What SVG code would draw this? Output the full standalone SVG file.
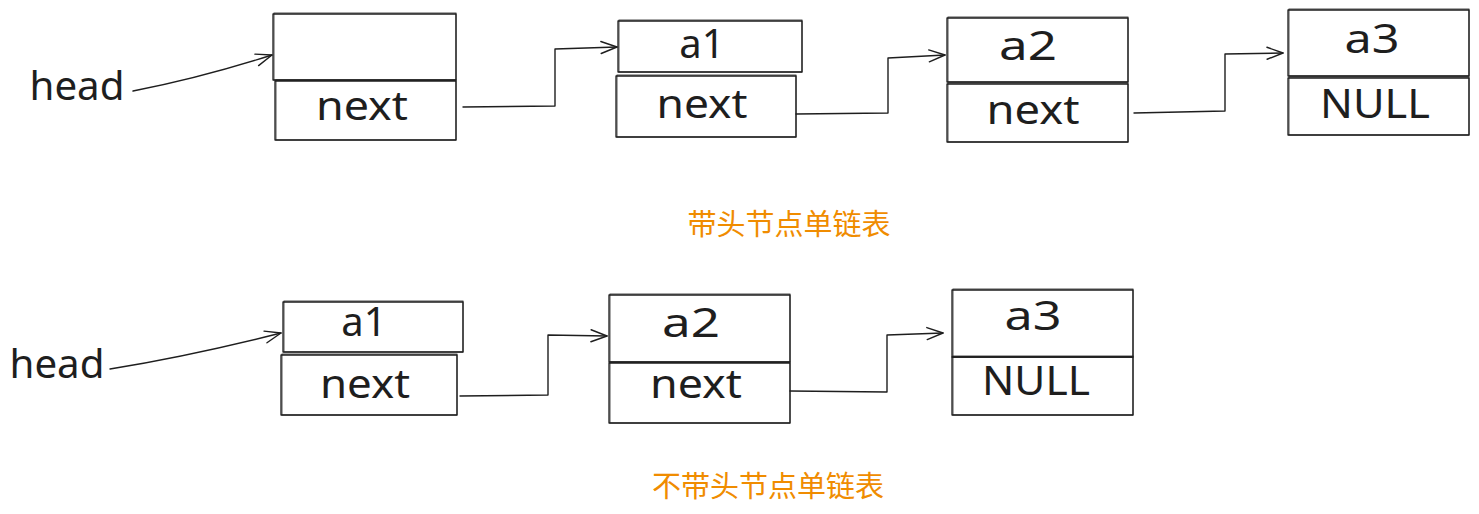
<svg xmlns="http://www.w3.org/2000/svg" width="1479" height="514" viewBox="0 0 1479 514">
  <style>
    .cell { fill: none; stroke: #1e1e1e; stroke-width: 1.3; stroke-linejoin: round; }
    .cell2 { fill: none; stroke: #1e1e1e; stroke-width: 0.9; opacity: 0.85; }
    .lbl { font-family: "Noto Sans", "DejaVu Sans", sans-serif; font-size: 40px; fill: #1e1e1e; text-anchor: middle; }
    .lk { fill: none; stroke: #1e1e1e; stroke-width: 1.4; stroke-linejoin: round; stroke-linecap: round; }
    .title { font-family: "Noto Sans CJK SC", "Noto Sans", sans-serif; font-size: 29px; fill: #f08c00; text-anchor: middle; }
  </style>
  <defs>
    <marker id="arrow" viewBox="-18 -9 20 18" refX="0" refY="0" markerWidth="20" markerHeight="18" markerUnits="userSpaceOnUse" orient="auto">
      <path d="M-16,-6 L0,0 L-16,6" fill="none" stroke="#1e1e1e" stroke-width="1.4" stroke-linecap="round" stroke-linejoin="round"/>
    </marker>
  </defs>

  <rect width="1479" height="514" fill="#ffffff"/>

  <!-- list with a head node -->
  <g id="head-top">
    <text class="lbl" x="77" y="100" textLength="95" lengthAdjust="spacingAndGlyphs">head</text>
  </g>

  <g id="node-h">
    <rect class="cell" x="273" y="14" width="183" height="66"/>
    <rect class="cell2" x="274" y="13" width="182" height="67"/>
    <rect class="cell" x="275" y="81" width="181" height="59"/>
    <rect class="cell2" x="276" y="80" width="180" height="60"/>
    <text class="lbl" x="362" y="120" textLength="92" lengthAdjust="spacingAndGlyphs">next</text>
  </g>

  <g id="node-a1-top">
    <rect class="cell" x="618" y="21" width="184" height="51"/>
    <rect class="cell2" x="619" y="20" width="183" height="52"/>
    <rect class="cell" x="616" y="76" width="180" height="61"/>
    <rect class="cell2" x="617" y="75" width="179" height="62"/>
    <text class="lbl" x="702" y="58">a1</text>
    <text class="lbl" x="702" y="118" textLength="91" lengthAdjust="spacingAndGlyphs">next</text>
  </g>

  <g id="node-a2-top">
    <rect class="cell" x="947" y="18" width="181" height="64"/>
    <rect class="cell2" x="948" y="17" width="180" height="65"/>
    <rect class="cell" x="947" y="84" width="181" height="58"/>
    <rect class="cell2" x="948" y="83" width="180" height="59"/>
    <text class="lbl" x="1028" y="60" textLength="58" lengthAdjust="spacingAndGlyphs">a2</text>
    <text class="lbl" x="1033" y="124" textLength="93" lengthAdjust="spacingAndGlyphs">next</text>
  </g>

  <g id="node-a3-top">
    <rect class="cell" x="1288" y="10" width="181" height="66"/>
    <rect class="cell2" x="1289" y="9" width="180" height="67"/>
    <rect class="cell" x="1288" y="78" width="181" height="57"/>
    <rect class="cell2" x="1289" y="77" width="180" height="58"/>
    <text class="lbl" x="1372" y="53" textLength="55" lengthAdjust="spacingAndGlyphs">a3</text>
    <text class="lbl" x="1375" y="118" textLength="110" lengthAdjust="spacingAndGlyphs">NULL</text>
  </g>

  <text class="title" x="789" y="235">带头节点单链表</text>

  <!-- list without a head node -->
  <g id="head-bottom">
    <text class="lbl" x="57" y="378" textLength="95" lengthAdjust="spacingAndGlyphs">head</text>
  </g>

  <g id="node-a1">
    <rect class="cell" x="283" y="302" width="180" height="50"/>
    <rect class="cell2" x="284" y="301" width="179" height="51"/>
    <rect class="cell" x="281" y="355" width="176" height="60"/>
    <rect class="cell2" x="282" y="354" width="175" height="61"/>
    <text class="lbl" x="364" y="336">a1</text>
    <text class="lbl" x="365" y="398" textLength="90" lengthAdjust="spacingAndGlyphs">next</text>
  </g>

  <g id="node-a2">
    <rect class="cell" x="609" y="295" width="181" height="67"/>
    <rect class="cell2" x="610" y="294" width="180" height="68"/>
    <rect class="cell" x="609" y="363" width="181" height="60"/>
    <rect class="cell2" x="610" y="362" width="180" height="61"/>
    <text class="lbl" x="691" y="337" textLength="58" lengthAdjust="spacingAndGlyphs">a2</text>
    <text class="lbl" x="696" y="398" textLength="92" lengthAdjust="spacingAndGlyphs">next</text>
  </g>

  <g id="node-a3">
    <rect class="cell" x="952" y="290" width="181" height="67"/>
    <rect class="cell2" x="953" y="289" width="180" height="68"/>
    <rect class="cell" x="952" y="357" width="181" height="58"/>
    <rect class="cell2" x="953" y="356" width="180" height="59"/>
    <text class="lbl" x="1033" y="330" textLength="57" lengthAdjust="spacingAndGlyphs">a3</text>
    <text class="lbl" x="1036" y="395" textLength="108" lengthAdjust="spacingAndGlyphs">NULL</text>
  </g>

  <text class="title" x="768" y="497">不带头节点单链表</text>

  <!-- pointers -->
  <g id="connectors">
    <path class="lk" d="M133,91 Q200,78 272,55" marker-end="url(#arrow)"/>
    <path class="lk" d="M463,107 L555,106 L555,49 L617,47" marker-end="url(#arrow)"/>
    <path class="lk" d="M796,114 L888,113 L888,58 L945,55" marker-end="url(#arrow)"/>
    <path class="lk" d="M1134,113 L1225,111 L1225,54 L1283,53" marker-end="url(#arrow)"/>
    <path class="lk" d="M110,369 Q190,356 281,333" marker-end="url(#arrow)"/>
    <path class="lk" d="M460,396 L548,395 L548,335 L607,336" marker-end="url(#arrow)"/>
    <path class="lk" d="M790,391 L887,392 L887,335 L943,333" marker-end="url(#arrow)"/>
  </g>
</svg>
